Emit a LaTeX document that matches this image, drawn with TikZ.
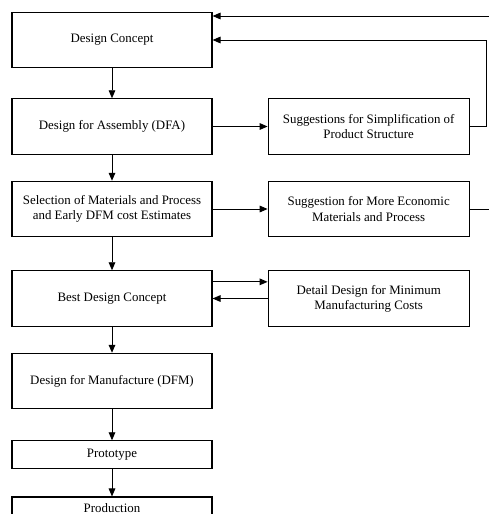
\documentclass[tikz,border=0pt]{standalone}
\usepackage{fontspec}
\setmainfont{Liberation Serif}
\usetikzlibrary{positioning,arrows.meta}

\begin{document}
\begin{tikzpicture}
  % Settings
  \tikzset{
    proc/.style={draw, line width=1pt, shape=rectangle, minimum width=6cm, minimum height=1.66cm, align=center, font=\fontsize{11}{13}\selectfont},
    sugg/.style={proc, minimum width=6.03cm},
    slim/.style={proc, minimum height=0.84cm},
    flow/.style={line width=0.8pt, -{Triangle[length=0.24cm, width=0.2cm]}},
  }

  \useasboundingbox (0,0) rectangle (14.64,-15.42);

  % Main column
  \node[proc] (concept) at (3.36,-1.2) {Design Concept};
  \node[proc, below=0.9cm of concept] (dfa) {Design for Assembly (DFA)};
  \node[proc, below=0.78cm of dfa] (sel) {Selection of Materials and Process\\and Early DFM cost Estimates};
  \node[proc, below=0.99cm of sel] (best) {Best Design Concept};
  \node[proc, below=0.78cm of best] (dfm) {Design for Manufacture (DFM)};
  \node[slim, below=0.93cm of dfm] (proto) {Prototype};
  \node[slim, text height=0.28cm, text depth=0.2cm, below=0.81cm of proto] (prod) {Production};

  % Side column
  \node[sugg, right=1.65cm of dfa] (simp) {Suggestions for Simplification of\\Product Structure};
  \node[sugg, right=1.65cm of sel] (econ) {Suggestion for More Economic\\Materials and Process};
  \node[sugg, right=1.65cm of best] (detail) {Detail Design for Minimum\\Manufacturing Costs};

  % Arrows
  \foreach \a/\b in {concept/dfa, dfa/sel, sel/best, best/dfm, dfm/proto, proto/prod} {\draw[flow] (\a) -- (\b);}

  \draw[flow] (dfa.east) -- (dfa.east -| simp.west);
  \draw[flow] (sel.east) -- (sel.east -| econ.west);
  \draw[flow] ([yshift=0.5cm]best.east) -- ([yshift=0.5cm]best.east -| detail.west);
  \draw[flow] (detail.west) -- (best.east);

  % Feedback
  \draw[flow] (simp.east) -- ++(0.5,0) |- (concept.east);
  \draw[flow] (econ.east) -- ++(0.81,0) |- ([yshift=0.72cm]concept.east);

\end{tikzpicture}
\end{document}
